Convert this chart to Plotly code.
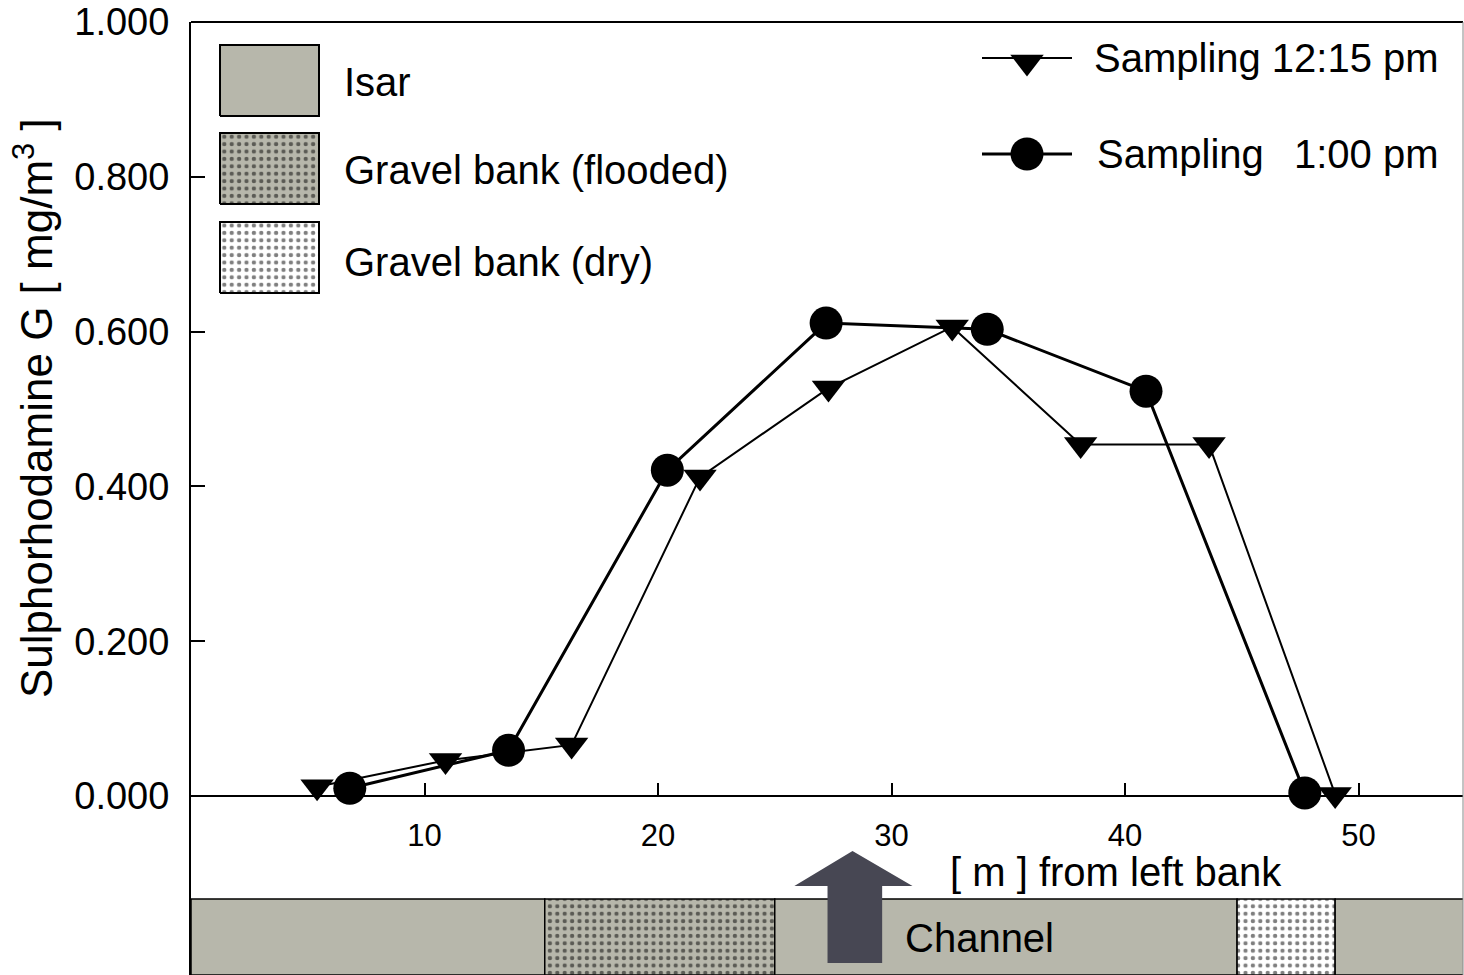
import plotly.graph_objects as go

# ---------------- data ----------------
x_1215 = [5.4, 10.9, 16.3, 21.8, 27.3, 32.6, 38.1, 43.6, 49.0]
y_1215 = [0.012, 0.046, 0.066, 0.412, 0.527, 0.606, 0.454, 0.454, 0.002]
x_1300 = [6.8, 13.6, 20.4, 27.2, 34.1, 40.9, 47.7]
y_1300 = [0.010, 0.059, 0.421, 0.611, 0.603, 0.523, 0.004]

band_kind = ["Isar", "Gravel bank (flooded)", "Isar", "Gravel bank (dry)", "Isar"]
band_start = [0.0, 15.15, 25.0, 44.8, 49.0]
band_end = [15.15, 25.0, 44.8, 49.0, 54.6]

y_ticks = [0.0, 0.2, 0.4, 0.6, 0.8, 1.0]
x_ticks = [10, 20, 30, 40, 50]

legend_kinds = ["Isar", "Gravel bank (flooded)", "Gravel bank (dry)"]
series_names = ["Sampling 12:15 pm", "Sampling   1:00 pm"]

# ---------------- styles ----------------
W, H = 1464, 975
ML, MR, MT, MB = 191, 1, 22, 0
PW, PH = W - ML - MR, H - MT - MB
XMAX = PW / 23.35
YMIN = 1.0 - PH / 774.0
GRAY = "#b7b7ab"
FONT = "Liberation Sans, Arial, sans-serif"

pat_flooded = dict(shape=".", fgcolor="black", bgcolor=GRAY, size=7.4, solidity=0.27)
pat_dry = dict(shape=".", fgcolor="black", bgcolor="white", size=7.4, solidity=0.27)
fill_style = {
    "Isar": dict(fillcolor=GRAY),
    "Gravel bank (flooded)": dict(fillcolor=GRAY, fillpattern=pat_flooded),
    "Gravel bank (dry)": dict(fillcolor="white", fillpattern=pat_dry),
}


def fx(px):
    return (px - ML) / PW


def fy(py):
    return (MT + PH - py) / PH


fig = go.Figure()

# bottom band (river cross-section)
band_top = YMIN + (975 - 899) / 774.0
for k, s, e in zip(band_kind, band_start, band_end):
    fig.add_trace(go.Scatter(
        x=[s, e, e, s, s], y=[YMIN, YMIN, band_top, band_top, YMIN],
        mode="lines", fill="toself", line=dict(color="black", width=1.5),
        hoverinfo="skip", showlegend=False, **fill_style[k]))

# data series
fig.add_trace(go.Scatter(
    x=x_1215, y=y_1215, mode="lines+markers", name=series_names[0],
    line=dict(color="black", width=2),
    marker=dict(symbol="triangle-down", size=29, color="black"),
    showlegend=False))
fig.add_trace(go.Scatter(
    x=x_1300, y=y_1300, mode="lines+markers", name=series_names[1],
    line=dict(color="black", width=3),
    marker=dict(symbol="circle", size=33, color="black"),
    showlegend=False))

# ---------------- legend drawn on overlay axes ----------------
box_tops = [45, 133, 222]
for k, top in zip(legend_kinds, box_tops):
    x0, x1 = fx(220), fx(319)
    y0, y1 = fy(top + 71), fy(top)
    fig.add_trace(go.Scatter(
        x=[x0, x1, x1, x0, x0], y=[y0, y0, y1, y1, y0], xaxis="x2", yaxis="y2",
        mode="lines", fill="toself", line=dict(color="black", width=2),
        hoverinfo="skip", showlegend=False, **fill_style[k]))

TXT = dict(size=40, color="black", family=FONT)
legend_txt_y = [82, 170, 262]
annotations = []
for k, ty in zip(legend_kinds, legend_txt_y):
    annotations.append(dict(text=k, x=fx(342), y=fy(ty), xref="paper", yref="paper",
                            xanchor="left", yanchor="middle", showarrow=False, font=TXT))

# series legend
for sym, sz, lw, ly, my in [("triangle-down", 29, 2, 58, 62), ("circle", 33, 3, 154, 154)]:
    fig.add_trace(go.Scatter(
        x=[fx(982), fx(1072)], y=[fy(ly), fy(ly)], xaxis="x2", yaxis="y2",
        mode="lines", line=dict(color="black", width=lw), hoverinfo="skip", showlegend=False))
    fig.add_trace(go.Scatter(
        x=[fx(1027)], y=[fy(my)], xaxis="x2", yaxis="y2",
        mode="markers", marker=dict(symbol=sym, size=sz, color="black"),
        hoverinfo="skip", showlegend=False))

annotations.append(dict(text="Sampling 12:15 pm", x=fx(1441), y=fy(58), xref="paper", yref="paper",
                        xanchor="right", yanchor="middle", showarrow=False, font=TXT))
annotations.append(dict(text="Sampling", x=fx(1095), y=fy(154), xref="paper", yref="paper",
                        xanchor="left", yanchor="middle", showarrow=False, font=TXT))
annotations.append(dict(text="1:00 pm", x=fx(1441), y=fy(154), xref="paper", yref="paper",
                        xanchor="right", yanchor="middle", showarrow=False, font=TXT))

# axis titles / labels
annotations.append(dict(text="Sulphorhodamine G [ mg/m<sup>3</sup> ]", x=fx(33), y=fy(408),
                        xref="paper", yref="paper", textangle=-90, xanchor="center", yanchor="middle",
                        showarrow=False, font=dict(size=44, color="black", family=FONT)))
annotations.append(dict(text="[ m ] from left bank", x=fx(948), y=fy(872), xref="paper", yref="paper",
                        xanchor="left", yanchor="middle", showarrow=False, font=TXT))
annotations.append(dict(text="Channel", x=fx(903), y=fy(938), xref="paper", yref="paper",
                        xanchor="left", yanchor="middle", showarrow=False, font=TXT))

# arrow pointing at the channel
ay_tip = (796 - 851) / 774.0
ay_base = (796 - 886) / 774.0
ay_bot = (796 - 963) / 774.0
arrow_path = (f"M 28.33 {ay_tip} L 30.9 {ay_base} L 29.6 {ay_base} L 29.6 {ay_bot} "
              f"L 27.26 {ay_bot} L 27.26 {ay_base} L 25.84 {ay_base} Z")
shapes = [
    dict(type="path", path=arrow_path, xref="x", yref="y", fillcolor="#474753",
         line=dict(width=0), layer="above"),
    dict(type="line", xref="paper", yref="paper", x0=0, x1=1, y0=1, y1=1,
         line=dict(color="black", width=2)),
    dict(type="line", xref="paper", yref="paper", x0=1, x1=1, y0=0, y1=1,
         line=dict(color="#888888", width=1)),
]

zero_pos = (0 - YMIN) / (1.0 - YMIN)

fig.update_layout(
    width=W, height=H, margin=dict(l=ML, r=MR, t=MT, b=MB),
    paper_bgcolor="white", plot_bgcolor="white",
    font=dict(family=FONT, color="black"),
    showlegend=False,
    annotations=annotations, shapes=shapes,
    xaxis=dict(range=[0, XMAX], tickvals=x_ticks, ticks="inside", ticklen=12, tickwidth=2,
               tickcolor="black", showline=True, linecolor="black", linewidth=2,
               anchor="free", position=zero_pos, showgrid=False, zeroline=False,
               tickfont=dict(size=31, family=FONT, color="black"), ticklabelstandoff=12),
    yaxis=dict(range=[YMIN, 1.0], tickvals=y_ticks, tickformat=".3f", ticks="inside",
               ticklen=14, tickwidth=2, tickcolor="black", showline=True, linecolor="black",
               linewidth=2, showgrid=False, zeroline=False, ticklabeloverflow="allow",
               tickfont=dict(size=38, family=FONT, color="black"), ticklabelstandoff=12),
    xaxis2=dict(range=[0, 1], overlaying="x", visible=False, anchor="y2"),
    yaxis2=dict(range=[0, 1], overlaying="y", visible=False, anchor="x2"),
)

fig.write_html("out.html", config={"displayModeBar": False},
               post_script="document.body.style.margin='0';document.body.style.overflow='hidden';")
